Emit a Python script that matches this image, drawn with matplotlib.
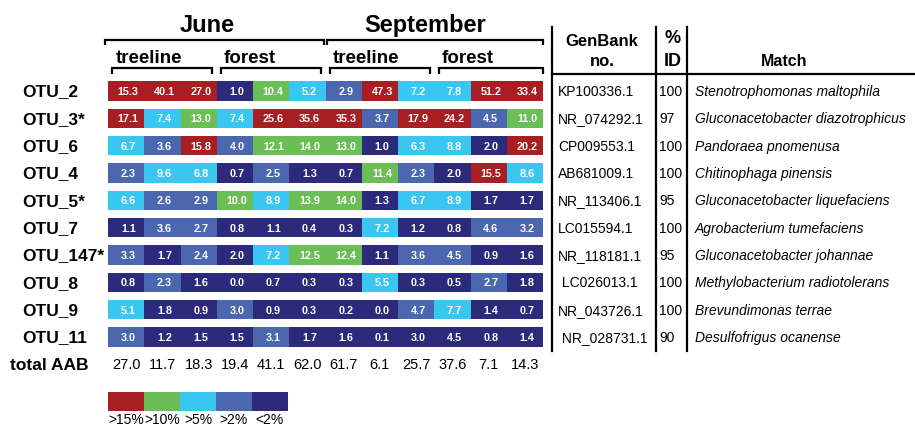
import matplotlib
matplotlib.use("Agg")
import matplotlib.pyplot as plt
import matplotlib.transforms as mtransforms
import numpy as np

plt.rcParams['font.family'] = ['Liberation Sans', 'DejaVu Sans']

# данные
otus = ["OTU_2", "OTU_3*", "OTU_6", "OTU_4", "OTU_5*", "OTU_7", "OTU_147*",
        "OTU_8", "OTU_9", "OTU_11"]
values = np.array([
    [15.3, 40.1, 27.0, 1.0, 10.4, 5.2, 2.9, 47.3, 7.2, 7.8, 51.2, 33.4],
    [17.1, 7.4, 13.0, 7.4, 25.6, 35.6, 35.3, 3.7, 17.9, 24.2, 4.5, 11.0],
    [6.7, 3.6, 15.8, 4.0, 12.1, 14.0, 13.0, 1.0, 6.3, 8.8, 2.0, 20.2],
    [2.3, 9.6, 6.8, 0.7, 2.5, 1.3, 0.7, 11.4, 2.3, 2.0, 15.5, 8.6],
    [6.6, 2.6, 2.9, 10.0, 8.9, 13.9, 14.0, 1.3, 6.7, 8.9, 1.7, 1.7],
    [1.1, 3.6, 2.7, 0.8, 1.1, 0.4, 0.3, 7.2, 1.2, 0.8, 4.6, 3.2],
    [3.3, 1.7, 2.4, 2.0, 7.2, 12.5, 12.4, 1.1, 3.6, 4.5, 0.9, 1.6],
    [0.8, 2.3, 1.6, 0.0, 0.7, 0.3, 0.3, 5.5, 0.3, 0.5, 2.7, 1.8],
    [5.1, 1.8, 0.9, 3.0, 0.9, 0.3, 0.2, 0.0, 4.7, 7.7, 1.4, 0.7],
    [3.0, 1.2, 1.5, 1.5, 3.1, 1.7, 1.6, 0.1, 3.0, 4.5, 0.8, 1.4],
])
total_aab = [27.0, 11.7, 18.3, 19.4, 41.1, 62.0, 61.7, 6.1, 25.7, 37.6, 7.1, 14.3]
genbank = ["KP100336.1", "NR_074292.1", "CP009553.1", "AB681009.1", "NR_113406.1",
           "LC015594.1", "NR_118181.1", " LC026013.1", "NR_043726.1", " NR_028731.1"]
pct_id = ["100", "97", "100", "100", "95", "100", "95", "100", "100", "90"]
matches = ["Stenotrophomonas maltophila", "Gluconacetobacter diazotrophicus",
           "Pandoraea pnomenusa", "Chitinophaga pinensis",
           "Gluconacetobacter liquefaciens", "Agrobacterium tumefaciens",
           "Gluconacetobacter johannae", "Methylobacterium radiotolerans",
           "Brevundimonas terrae", "Desulfofrigus ocanense"]
months = ["June", "September"]
sites = ["treeline", "forest", "treeline", "forest"]
legend_labels = [">15%", ">10%", ">5%", ">2%", "<2%"]
palette = ["#A71E23", "#6BBE56", "#39C6F1", "#4A67AF", "#2B2A7B"]

# класс цвета по порогам
cls = np.select([values >= 15, values >= 10, values > 5, values > 2], [0, 1, 2, 3], 4)
# в оригинале эти две ячейки OTU_11 закрашены как <2%
cls[9, 8] = 4
cls[9, 9] = 4

W, H = 915, 427
fig = plt.figure(figsize=(W / 100, H / 100), dpi=100)


def fx(px):
    return px / W


def fy(py):
    return 1 - py / H


# фоновая ось в пикселях для линий таблицы
ov = fig.add_axes([0, 0, 1, 1])
ov.set_xlim(0, W)
ov.set_ylim(H, 0)
ov.axis('off')

# основная тепловая карта
pitch = (338 - 92) / 9
top = 92 - 0.5 * pitch
bottom = 92 + 10.5 * pitch
ax = fig.add_axes([fx(108), fy(bottom), fx(543) - fx(108), (bottom - top) / H])
ax.set_xlim(0, 12)
ax.set_ylim(10.5, -0.5)
ax.axis('off')

rows = np.arange(len(otus))
for j in range(values.shape[1]):
    ax.barh(rows, 1.0, left=j, height=0.7, color=[palette[c] for c in cls[:, j]],
            linewidth=0)
    for i in rows:
        ax.text(j + 0.56, i, f"{values[i, j]:.1f}", color='white', fontsize=7.8,
                fontweight='bold', ha='center', va='center')
    ax.text(j + 0.5, 10, f"{total_aab[j]:.1f}", fontsize=10.5, ha='center', va='center')

row_tr = mtransforms.blended_transform_factory(fig.transFigure, ax.transData)
for i, name in enumerate(otus):
    ax.text(fx(22), i, name, transform=row_tr, fontsize=12.5, fontweight='bold',
            ha='left', va='center')
ax.text(fx(10), 10, "total AAB", transform=row_tr, fontsize=12.5, fontweight='bold',
        ha='left', va='center')

# скобки и заголовки
hdr_tr = mtransforms.blended_transform_factory(ax.transData, fig.transFigure)


def bracket(x0, x1, y, depth):
    ax.plot([x0, x0, x1, x1], [fy(y + depth), fy(y), fy(y), fy(y + depth)],
            color='black', lw=1.6, transform=hdr_tr, clip_on=False,
            solid_capstyle='butt', solid_joinstyle='miter')


for k, m in enumerate(months):
    x0, x1 = 6 * k, 6 * k + 6
    bracket(x0 - 0.08 if k == 0 else x0 + 0.05, x1 - 0.05 if k == 0 else x1, 41, 5)
    ax.text((x0 + x1) / 2 - 0.25, fy(32), m, transform=hdr_tr, fontsize=17,
            fontweight='bold', ha='center', va='baseline')

for k, s in enumerate(sites):
    x0, x1 = 3 * k, 3 * k + 3
    bracket(x0 + 0.12, x1 if k == 3 else x1 - 0.13, 69, 6)
    ax.text(x0 + 0.2, fy(63), s, transform=hdr_tr, fontsize=13.5,
            fontweight='bold', ha='left', va='baseline')

# таблица справа
for xv in [552, 656, 687]:
    ov.plot([xv, xv], [28, 352], color='black', lw=1.6)
ov.plot([552, W], [75, 75], color='black', lw=1.6)

ov.text(602, 46, "GenBank", fontsize=12, fontweight='bold', ha='center', va='baseline')
ov.text(602, 66, "no.", fontsize=12, fontweight='bold', ha='center', va='baseline')
ov.text(673, 43, "%", fontsize=13, fontweight='bold', ha='center', va='baseline')
ov.text(673, 66, "ID", fontsize=13, fontweight='bold', ha='center', va='baseline')
ov.text(784, 66, "Match", fontsize=11.5, fontweight='bold', ha='center', va='baseline')

for i in rows:
    ax.text(fx(558), i, genbank[i], transform=row_tr, fontsize=10, ha='left', va='center')
    ax.text(fx(659), i, pct_id[i], transform=row_tr, fontsize=10, ha='left', va='center')
    ax.text(fx(695), i, matches[i], transform=row_tr, fontsize=10, style='italic',
            ha='left', va='center')

# легенда
leg = fig.add_axes([fx(108), fy(412), fx(288) - fx(108), (412 - 393) / H])
leg.bar(np.arange(5), 1, width=1, align='edge', color=palette, linewidth=0)
leg.set_xlim(0, 5)
leg.set_ylim(0, 1)
leg.axis('off')
leg_tr = mtransforms.blended_transform_factory(leg.transData, fig.transFigure)
for k, lab in enumerate(legend_labels):
    leg.text(k + 0.5, fy(413), lab, transform=leg_tr, fontsize=10,
             ha='center', va='top')

fig.savefig("out.png", dpi=100)
